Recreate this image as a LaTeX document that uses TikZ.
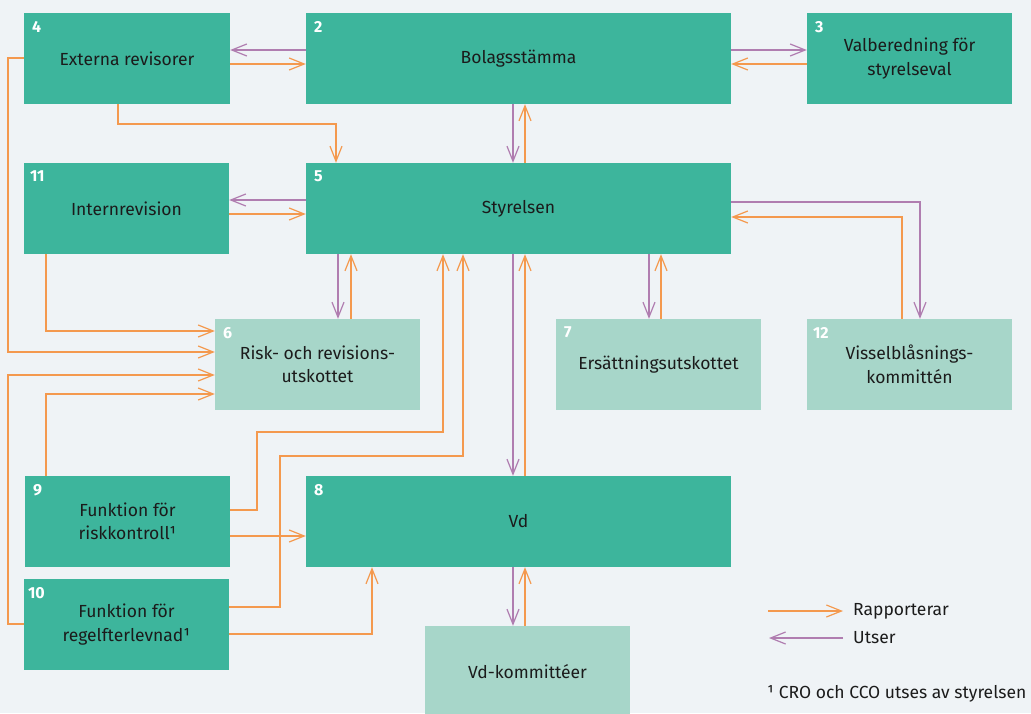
\documentclass[tikz,border=0pt]{standalone}
\usepackage{fontspec}
\setmainfont{Fira Sans}
\usetikzlibrary{arrows.meta}
\definecolor{bg}{HTML}{EFF3F6}
\definecolor{dk}{HTML}{3DB59C}
\definecolor{lt}{HTML}{A7D6C9}
\definecolor{org}{HTML}{F4994E}
\definecolor{pur}{HTML}{B07DB0}
\definecolor{txt}{HTML}{1B1B1B}
\begin{document}
\begin{tikzpicture}[x=1pt,y=-1pt,
  box/.style={minimum height=91pt, inner sep=0pt, align=center, text=txt, font=\fontsize{17.5}{23.5}\selectfont},
  dbox/.style={box, fill=dk},
  lbox/.style={box, fill=lt},
  num/.style={anchor=north west, inner sep=0pt, text=white, font=\bfseries\fontsize{16}{16}\selectfont},
  conn/.style={line width=1.2pt, -{Straight Barb[length=15pt,width=12pt]}},
  rep/.style={conn, draw=org},
  ut/.style={conn, draw=pur},
  lab/.style={anchor=west, inner sep=0pt, text=txt, font=\fontsize{17.5}{20}\selectfont}]
\useasboundingbox (0,0) rectangle (1031,713);
\clip (0,0) rectangle (1031,713);
\fill[bg] (0,0) rectangle (1031,713);

% boxes
\node[dbox, minimum width=206pt] (b4) at (127,58.5) {Externa revisorer};
\node[dbox, minimum width=425pt] (b2) at (518.5,58.5) {Bolagsstämma};
\node[dbox, minimum width=205pt] (b3) at (909.5,58.5) {Valberedning för\\styrelseval};
\node[dbox, minimum width=205pt] (b11) at (126.5,208.5) {Internrevision};
\node[dbox, minimum width=425pt] (b5) at (518.5,208.5) {Styrelsen};
\node[lbox, minimum width=205pt] (b6) at (317.5,364.5) {Risk- och revisions-\\utskottet};
\node[lbox, minimum width=205pt] (b7) at (658.5,364.5) {Ersättningsutskottet};
\node[lbox, minimum width=205pt] (b12) at (909.5,364.5) {Visselblåsnings-\\kommittén};
\node[dbox, minimum width=205pt] (b9) at (127.5,521.5) {Funktion för\\riskkontroll¹};
\node[dbox, minimum width=205pt] (b10) at (126.5,624.5) {Funktion för\\regelfterlevnad¹};
\node[dbox, minimum width=425pt] (b8) at (518.5,521.5) {Vd};
\node[lbox, minimum width=205pt] (bvd) at (527.5,671.5) {Vd-kommittéer};

% numbers
\node[num] (n4) at ([shift={(8,8)}]b4.north west) {4};
\node[num] (n2) at ([shift={(8,8)}]b2.north west) {2};
\node[num] (n3) at ([shift={(8,8)}]b3.north west) {3};
\node[num] (n11) at ([shift={(6,8)}]b11.north west) {11};
\node[num] (n5) at ([shift={(8,8)}]b5.north west) {5};
\node[num] (n6) at ([shift={(8,8)}]b6.north west) {6};
\node[num] (n7) at ([shift={(8,8)}]b7.north west) {7};
\node[num] (n12) at ([shift={(6,8)}]b12.north west) {12};
\node[num] (n9) at ([shift={(8,8)}]b9.north west) {9};
\node[num] (n10) at ([shift={(4,8)}]b10.north west) {10};
\node[num] (n8) at ([shift={(8,8)}]b8.north west) {8};

% connectors top row
\draw[ut]  (b2.west |- 0,50) -- (b4.east |- 0,50);
\draw[rep] (b4.east |- 0,64) -- (b2.west |- 0,64);
\draw[ut]  (b2.east |- 0,50) -- (b3.west |- 0,50);
\draw[rep] (b3.west |- 0,64) -- (b2.east |- 0,64);
\draw[rep] (b4.south -| 118,0) -- (118,124) -| (b5.north -| 336,0);
\draw[ut]  (b2.south -| 513,0) -- (b5.north -| 513,0);
\draw[rep] (b5.north -| 525,0) -- (b2.south -| 525,0);

% Styrelsen row
\draw[ut]  (b5.west |- 0,200) -- (b11.east |- 0,200);
\draw[rep] (b11.east |- 0,214) -- (b5.west |- 0,214);
\draw[ut]  (b5.east |- 0,202) -| (b12.north -| 920,0);
\draw[rep] (b12.north -| 902,0) |- (b5.east |- 0,217);
\draw[ut]  (b5.south -| 338,0) -- (b6.north -| 338,0);
\draw[rep] (b6.north -| 351,0) -- (b5.south -| 351,0);
\draw[ut]  (b5.south -| 649,0) -- (b7.north -| 649,0);
\draw[rep] (b7.north -| 661,0) -- (b5.south -| 661,0);
\draw[ut]  (b5.south -| 513,0) -- (b8.north -| 513,0);
\draw[rep] (b8.north -| 525,0) -- (b5.south -| 525,0);

% into Risk- och revisionsutskottet
\draw[rep] (b11.south -| 46,0) |- (b6.west |- 0,331);
\draw[rep] (b4.west |- 0,58) -- (8,58) |- (b6.west |- 0,352);
\draw[rep] (b10.west |- 0,624) -- (8,624) |- (b6.west |- 0,375);
\draw[rep] (b9.north -| 46,0) |- (b6.west |- 0,394);

% from functions to Styrelsen and Vd
\draw[rep] (b9.east |- 0,510) -- (257,510) -- (257,432) -- (443,432) -- (b5.south -| 443,0);
\draw[rep] (b10.east |- 0,607) -- (280,607) -- (280,456) -- (463,456) -- (b5.south -| 463,0);
\draw[rep] (b9.east |- 0,536) -- (b8.west |- 0,536);
\draw[rep] (b10.east |- 0,634) -| (b8.south -| 372,0);

% Vd to Vd-kommitteer
\draw[ut]  (b8.south -| 513,0) -- (bvd.north -| 513,0);
\draw[rep] (bvd.north -| 525,0) -- (b8.south -| 525,0);

% legend
\coordinate (la1) at (768,611);
\coordinate (la2) at (843,611);
\coordinate (lb1) at (843,638);
\coordinate (lb2) at (769,638);
\draw[rep] (la1) -- (la2);
\draw[ut] (lb1) -- (lb2);
\node[lab] (lr) at (853,611) {Rapporterar};
\node[lab] (lu) at (853,638) {Utser};
\node[lab] (fn) at (767,694) {¹ CRO och CCO utses av styrelsen};
\end{tikzpicture}
\end{document}
